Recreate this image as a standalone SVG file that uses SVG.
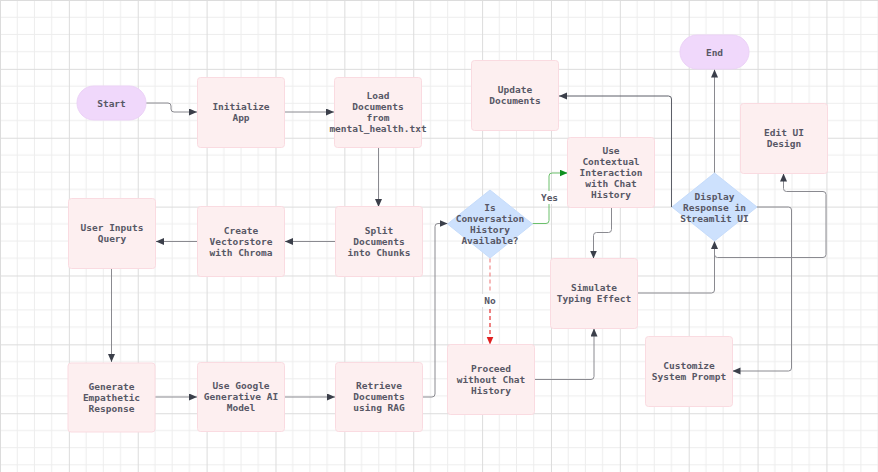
<svg xmlns="http://www.w3.org/2000/svg" width="878" height="472" viewBox="0 0 878 472">
  <style>
    .box { fill: #fdeff0; stroke: #fadbe1; stroke-width: 1; }
    .term { fill: #f0d8fb; stroke: #ecd2f7; stroke-width: 1; }
    .dec { fill: #cde1fd; stroke: #c6dcfb; stroke-width: 1; }
    .lbl { font-family: "DejaVu Sans Mono", "Liberation Mono", monospace; font-size: 9.5px; font-weight: bold; fill: #575765; text-anchor: middle; dominant-baseline: central; }
    .edge { fill: none; stroke: #8a8a90; stroke-width: 1; }
    .edge-dark { fill: none; stroke: #5c5f68; stroke-width: 1; }
    .edge-yes { fill: none; stroke: #6cc06c; stroke-width: 1; }
    .edge-no { fill: none; stroke: #e53030; stroke-width: 1.2; stroke-dasharray: 4 3; }
    .tag { font-family: "DejaVu Sans Mono", "Liberation Mono", monospace; font-size: 9.5px; font-weight: bold; fill: #575765; text-anchor: middle; dominant-baseline: central; }
  </style>
  <defs>
    <pattern id="grid" patternUnits="userSpaceOnUse" width="68.87" height="68.87">
      <path d="M17.22 0V68.87M34.43 0V68.87M51.65 0V68.87M0 17.22H68.87M0 34.43H68.87M0 51.65H68.87" stroke="#ededed" stroke-width="1" fill="none"/>
      <path d="M0.5 0V68.87M0 0.5H68.87" stroke="#dcdcdc" stroke-width="1" fill="none"/>
    </pattern>
    <marker id="arr" markerUnits="userSpaceOnUse" markerWidth="9" markerHeight="8" refX="8" refY="3.5" orient="auto">
      <path d="M0,0 L8,3.5 L0,7 z" fill="#3b3f4a"/>
    </marker>
    <marker id="arr-yes" markerUnits="userSpaceOnUse" markerWidth="9" markerHeight="8" refX="8" refY="3.5" orient="auto">
      <path d="M0,0 L8,3.5 L0,7 z" fill="#0f8f1f"/>
    </marker>
    <marker id="arr-no" markerUnits="userSpaceOnUse" markerWidth="9" markerHeight="8" refX="8" refY="3.5" orient="auto">
      <path d="M0,0 L8,3.5 L0,7 z" fill="#e02020"/>
    </marker>
  </defs>

  <rect width="878" height="472" fill="#ffffff"/>
  <rect width="878" height="472" fill="url(#grid)"/>

  <!-- connectors -->
  <g id="connectors">
    <path class="edge" d="M146,103 H168 Q171,103 171,106 V109 Q171,112 174,112 H197" marker-end="url(#arr)"/>
    <path class="edge" d="M284,112 H334" marker-end="url(#arr)"/>
    <path class="edge" d="M378.5,147 V207" marker-end="url(#arr)"/>
    <path class="edge" d="M335,241.5 H285" marker-end="url(#arr)"/>
    <path class="edge" d="M197,241.5 H156" marker-end="url(#arr)"/>
    <path class="edge" d="M111.5,268 V362" marker-end="url(#arr)"/>
    <path class="edge" d="M155,397 H197" marker-end="url(#arr)"/>
    <path class="edge" d="M284,397 H335" marker-end="url(#arr)"/>
    <path class="edge" d="M422,397 H432 Q435,397 435,394 V226.5 Q435,223.5 438,223.5 H447.5" marker-end="url(#arr)"/>
    <path class="edge-yes" d="M532.5,223.5 H546 Q549,223.5 549,220.5 V176 Q549,173 552,173 H567.5" marker-end="url(#arr-yes)"/>
    <path d="M490,258.5 V292" fill="none" stroke="#f08a8a" stroke-width="1.2" stroke-dasharray="4 3"/>
    <path class="edge-no" d="M490,309 V344.5" marker-end="url(#arr-no)"/>
    <path class="edge" d="M534.5,379.5 H591 Q594,379.5 594,376.5 V328.5" marker-end="url(#arr)"/>
    <path class="edge" d="M611.5,207 V229.5 Q611.5,232.5 608.5,232.5 H596.5 Q593.5,232.5 593.5,235.5 V258.5" marker-end="url(#arr)"/>
    <path class="edge" d="M714.5,241 V254.5 Q714.5,257.5 717.5,257.5 H823 Q826,257.5 826,254.5 V194.5 Q826,191.5 823,191.5 H786.5 Q783.5,191.5 783.5,188.5 V173.5" marker-end="url(#arr)"/>
    <path class="edge" d="M637,293 H711.5 Q714.5,293 714.5,290 V241" marker-end="url(#arr)"/>
    <path class="edge" d="M714.5,173 V69.5" marker-end="url(#arr)"/>
    <path class="edge-dark" d="M671.5,207 V99 Q671.5,96 668.5,96 H559" marker-end="url(#arr)"/>
    <path class="edge" d="M756.5,207 H788.5 Q791.5,207 791.5,210 V368 Q791.5,371 788.5,371 H732.5" marker-end="url(#arr)"/>
    <rect x="538" y="191" width="23" height="13" fill="#ffffff"/>
    <text class="tag" x="549.5" y="197.5">Yes</text>
    <rect x="481" y="294" width="18" height="13" fill="#ffffff"/>
    <text class="tag" x="490" y="300.5">No</text>
  </g>

  <!-- nodes -->
  <g id="start">
    <rect class="term" x="77" y="86" width="69" height="34" rx="17"/>
    <text class="lbl" x="111.5" y="103">Start</text>
  </g>
  <g id="init-app">
    <rect class="box" x="197.5" y="77.5" width="87" height="70" rx="3"/>
    <text class="lbl" x="241" y="106.5">Initialize</text>
    <text class="lbl" x="241" y="117.5">App</text>
  </g>
  <g id="load-docs">
    <rect class="box" x="334.5" y="77.5" width="87" height="70" rx="3"/>
    <text class="lbl" x="378" y="95.5">Load</text>
    <text class="lbl" x="378" y="106.5">Documents</text>
    <text class="lbl" x="378" y="117.5">from</text>
    <text class="lbl" x="378" y="128.5">mental_health.txt</text>
  </g>
  <g id="split-docs">
    <rect class="box" x="335.5" y="206.5" width="87" height="70" rx="3"/>
    <text class="lbl" x="379" y="230">Split</text>
    <text class="lbl" x="379" y="241">Documents</text>
    <text class="lbl" x="379" y="252">into Chunks</text>
  </g>
  <g id="create-vectorstore">
    <rect class="box" x="197.5" y="206.5" width="87" height="70" rx="3"/>
    <text class="lbl" x="241" y="230">Create</text>
    <text class="lbl" x="241" y="241">Vectorstore</text>
    <text class="lbl" x="241" y="252">with Chroma</text>
  </g>
  <g id="user-query">
    <rect class="box" x="68.5" y="198.5" width="87" height="70" rx="3"/>
    <text class="lbl" x="112" y="227.5">User Inputs</text>
    <text class="lbl" x="112" y="238.5">Query</text>
  </g>
  <g id="generate-response">
    <rect class="box" x="68" y="363" width="87" height="69" rx="3"/>
    <text class="lbl" x="111.5" y="386">Generate</text>
    <text class="lbl" x="111.5" y="397">Empathetic</text>
    <text class="lbl" x="111.5" y="408">Response</text>
  </g>
  <g id="google-model">
    <rect class="box" x="197.5" y="362.5" width="87" height="69" rx="3"/>
    <text class="lbl" x="241" y="385.5">Use Google</text>
    <text class="lbl" x="241" y="396.5">Generative AI</text>
    <text class="lbl" x="241" y="407.5">Model</text>
  </g>
  <g id="retrieve-docs">
    <rect class="box" x="335.5" y="362.5" width="87" height="69" rx="3"/>
    <text class="lbl" x="379" y="385.5">Retrieve</text>
    <text class="lbl" x="379" y="396.5">Documents</text>
    <text class="lbl" x="379" y="407.5">using RAG</text>
  </g>
  <g id="history-check">
    <polygon class="dec" points="490,190 532.5,224 490,258 447.5,224"/>
    <text class="lbl" x="490" y="207.5">Is</text>
    <text class="lbl" x="490" y="218.5">Conversation</text>
    <text class="lbl" x="490" y="229.5">History</text>
    <text class="lbl" x="490" y="240.5">Available?</text>
  </g>
  <g id="contextual">
    <rect class="box" x="567.5" y="137.5" width="87" height="70" rx="3"/>
    <text class="lbl" x="611" y="150">Use</text>
    <text class="lbl" x="611" y="161">Contextual</text>
    <text class="lbl" x="611" y="172">Interaction</text>
    <text class="lbl" x="611" y="183">with Chat</text>
    <text class="lbl" x="611" y="194">History</text>
  </g>
  <g id="proceed-no-history">
    <rect class="box" x="447.5" y="344.5" width="87" height="70" rx="3"/>
    <text class="lbl" x="491" y="368.5">Proceed</text>
    <text class="lbl" x="491" y="379.5">without Chat</text>
    <text class="lbl" x="491" y="390.5">History</text>
  </g>
  <g id="typing-effect">
    <rect class="box" x="550.5" y="258.5" width="87" height="70" rx="3"/>
    <text class="lbl" x="594" y="287.5">Simulate</text>
    <text class="lbl" x="594" y="298.5">Typing Effect</text>
  </g>
  <g id="display-response">
    <polygon class="dec" points="714.5,173 757,207 714.5,241 672,207"/>
    <text class="lbl" x="714.5" y="196">Display</text>
    <text class="lbl" x="714.5" y="207">Response in</text>
    <text class="lbl" x="714.5" y="218">Streamlit UI</text>
  </g>
  <g id="end">
    <rect class="term" x="680" y="35" width="69" height="34" rx="17"/>
    <text class="lbl" x="714.5" y="52">End</text>
  </g>
  <g id="update-docs">
    <rect class="box" x="471.5" y="60.5" width="87" height="70" rx="3"/>
    <text class="lbl" x="515" y="89.5">Update</text>
    <text class="lbl" x="515" y="100.5">Documents</text>
  </g>
  <g id="edit-ui">
    <rect class="box" x="740.5" y="103.5" width="87" height="70" rx="3"/>
    <text class="lbl" x="784" y="132.5">Edit UI</text>
    <text class="lbl" x="784" y="143.5">Design</text>
  </g>
  <g id="customize-prompt">
    <rect class="box" x="645.5" y="336.5" width="87" height="70" rx="3"/>
    <text class="lbl" x="689" y="365.5">Customize</text>
    <text class="lbl" x="689" y="376.5">System Prompt</text>
  </g>
</svg>
